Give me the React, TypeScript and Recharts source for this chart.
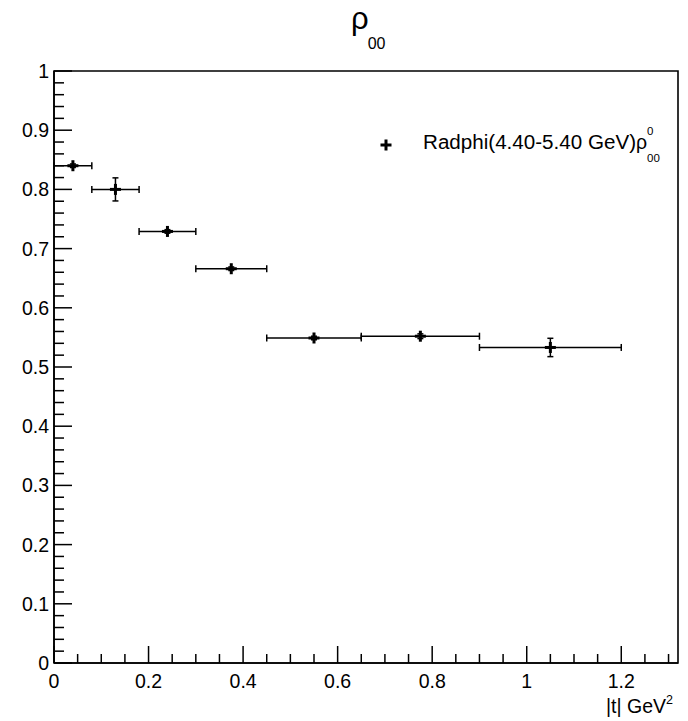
import React from 'react';
import { ScatterChart, Scatter, XAxis, YAxis, ErrorBar, ReferenceArea, Legend } from 'recharts';

// |t| bin centres and half widths (GeV^2)
const tCenters = [0.04, 0.13, 0.24, 0.375, 0.55, 0.775, 1.05];
const tHalfWidths = [0.04, 0.05, 0.06, 0.075, 0.1, 0.125, 0.15];
// rho00 values and their errors
const rho00 = [0.84, 0.8, 0.729, 0.666, 0.549, 0.552, 0.533];
const rho00Err = [0.003, 0.0195, 0.003, 0.003, 0.003, 0.004, 0.0155];

const xMajorTicks = [0, 0.2, 0.4, 0.6, 0.8, 1, 1.2];
const yMajorTicks = [0, 0.1, 0.2, 0.3, 0.4, 0.5, 0.6, 0.7, 0.8, 0.9, 1];
const seriesName = 'Radphi(4.40-5.40 GeV)';

const xTicks = Array.from({ length: 27 }, (_, i) => +(i * 0.05).toFixed(2));
const yTicks = Array.from({ length: 51 }, (_, i) => +(i * 0.02).toFixed(2));

const points = tCenters.map((t, i) => ({
  t,
  rho: rho00[i],
  tErr: tHalfWidths[i],
  rhoErr: rho00Err[i],
}));

const FONT = '"Liberation Sans", Arial, Helvetica, sans-serif';
const isMajor = (list: number[], v: number) => list.some((m) => Math.abs(m - v) < 1e-6);

const Cross = ({ cx, cy }: any) => (
  <g>
    <rect x={cx - 5.5} y={cy - 1.5} width={11} height={3} fill="#000" />
    <rect x={cx - 1.5} y={cy - 5.5} width={3} height={11} fill="#000" />
  </g>
);

const XTick = (props: any) => {
  const { x, y, payload } = props;
  const major = isMajor(xMajorTicks, payload.value);
  return (
    <g>
      <line x1={x} x2={x} y1={y} y2={y - (major ? 17 : 9)} stroke="#000" strokeWidth={1.5} />
      {major && (
        <text x={x} y={y + 25} textAnchor="middle" fontSize={19.5} fontFamily={FONT} fill="#000">
          {String(payload.value)}
        </text>
      )}
    </g>
  );
};

const YTick = (props: any) => {
  const { x, y, payload } = props;
  const major = isMajor(yMajorTicks, payload.value);
  return (
    <g>
      <line x1={x} x2={x + (major ? 18 : 10)} y1={y} y2={y} stroke="#000" strokeWidth={1.5} />
      {major && (
        <text x={x - 5} y={y + 7} textAnchor="end" fontSize={19.5} fontFamily={FONT} fill="#000">
          {String(payload.value)}
        </text>
      )}
    </g>
  );
};

const renderLegend = (props: any) => {
  const item = props.payload && props.payload[0];
  return (
    <svg width={290} height={48}>
      <Cross cx={14} cy={22} />
      <text x={51} y={26} fontSize={19.5} fontFamily={FONT} fill="#000">
        <tspan textLength={213} lengthAdjust="spacingAndGlyphs">{item ? item.value : seriesName}</tspan>
        <tspan>ρ</tspan>
        <tspan fontSize={11.5} dy={-14}>0</tspan>
        <tspan fontSize={11.5} dx={-6.4} dy={27}>00</tspan>
      </text>
    </svg>
  );
};

export default function App() {
  return (
    <div style={{ position: 'absolute', left: 0, top: 0, width: 688, height: 721, background: '#fff' }}>
      <ScatterChart width={688} height={721} margin={{ top: 71, right: 10, bottom: 0, left: 0 }}>
        <XAxis
          type="number"
          dataKey="t"
          domain={[0, 1.32]}
          ticks={xTicks}
          interval={0}
          tickSize={0}
          tickMargin={0}
          tick={<XTick />}
          height={58}
          axisLine={{ stroke: '#000', strokeWidth: 1.6 }}
          allowDataOverflow
        />
        <YAxis
          type="number"
          dataKey="rho"
          domain={[0, 1]}
          ticks={yTicks}
          interval={0}
          tickSize={0}
          tickMargin={0}
          tick={<YTick />}
          width={54}
          axisLine={{ stroke: '#000', strokeWidth: 1.6 }}
          allowDataOverflow
        />
        <ReferenceArea x1={0} x2={1.32} y1={0} y2={1} fill="none" stroke="#000" strokeWidth={1.6} ifOverflow="visible" />
        <Legend
          layout="horizontal"
          verticalAlign="middle"
          align="center"
          content={renderLegend}
          wrapperStyle={{ position: 'absolute', left: 372, top: 123, width: 290, height: 48 }}
        />
        <Scatter name={seriesName} data={points} fill="#000" shape={(p: any) => <Cross {...p} />} isAnimationActive={false}>
          <ErrorBar dataKey="tErr" direction="x" width={3.5} stroke="#000" strokeWidth={1.5} isAnimationActive={false} />
          <ErrorBar dataKey="rhoErr" direction="y" width={3} stroke="#000" strokeWidth={1.5} isAnimationActive={false} />
        </Scatter>
      </ScatterChart>
      <svg width={688} height={721} style={{ position: 'absolute', left: 0, top: 0, pointerEvents: 'none' }}>
        <text x={351} y={29} fontSize={31} fontFamily={FONT} fill="#000">
          ρ<tspan fontSize={16} dy={20} dx={-1}>00</tspan>
        </text>
        <text x={606} y={713} fontSize={19.5} fontFamily={FONT} fill="#000">
          |t| GeV<tspan fontSize={12.5} dy={-9}>2</tspan>
        </text>
      </svg>
    </div>
  );
}
